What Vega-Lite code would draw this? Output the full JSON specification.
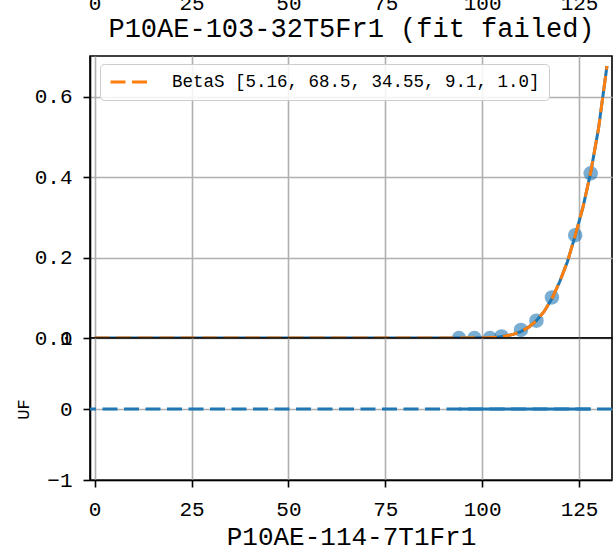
{
  "$schema": "https://vega.github.io/schema/vega-lite/v6.json",
  "padding": {"left": 13, "top": -9, "right": 0, "bottom": 0},
  "background": "white",
  "datasets": {
    "pts": [
      {"x": 94, "y": 0}, {"x": 98, "y": 0}, {"x": 102, "y": 0}, {"x": 105, "y": 0.004},
      {"x": 110, "y": 0.02}, {"x": 114, "y": 0.043}, {"x": 118, "y": 0.101},
      {"x": 124, "y": 0.256}, {"x": 128, "y": 0.41}
    ],
    "curve": [
      {"x": 0, "y": 0, "series": "BetaS [5.16, 68.5, 34.55, 9.1, 1.0]"},
      {"x": 50, "y": 0, "series": "BetaS [5.16, 68.5, 34.55, 9.1, 1.0]"},
      {"x": 90, "y": 0, "series": "BetaS [5.16, 68.5, 34.55, 9.1, 1.0]"},
      {"x": 100, "y": 0.0005, "series": "BetaS [5.16, 68.5, 34.55, 9.1, 1.0]"},
      {"x": 102, "y": 0.001, "series": "BetaS [5.16, 68.5, 34.55, 9.1, 1.0]"},
      {"x": 104, "y": 0.002, "series": "BetaS [5.16, 68.5, 34.55, 9.1, 1.0]"},
      {"x": 106, "y": 0.005, "series": "BetaS [5.16, 68.5, 34.55, 9.1, 1.0]"},
      {"x": 108, "y": 0.009, "series": "BetaS [5.16, 68.5, 34.55, 9.1, 1.0]"},
      {"x": 110, "y": 0.016, "series": "BetaS [5.16, 68.5, 34.55, 9.1, 1.0]"},
      {"x": 112, "y": 0.027, "series": "BetaS [5.16, 68.5, 34.55, 9.1, 1.0]"},
      {"x": 114, "y": 0.043, "series": "BetaS [5.16, 68.5, 34.55, 9.1, 1.0]"},
      {"x": 116, "y": 0.066, "series": "BetaS [5.16, 68.5, 34.55, 9.1, 1.0]"},
      {"x": 118, "y": 0.098, "series": "BetaS [5.16, 68.5, 34.55, 9.1, 1.0]"},
      {"x": 120, "y": 0.14, "series": "BetaS [5.16, 68.5, 34.55, 9.1, 1.0]"},
      {"x": 122, "y": 0.19, "series": "BetaS [5.16, 68.5, 34.55, 9.1, 1.0]"},
      {"x": 124, "y": 0.255, "series": "BetaS [5.16, 68.5, 34.55, 9.1, 1.0]"},
      {"x": 126, "y": 0.325, "series": "BetaS [5.16, 68.5, 34.55, 9.1, 1.0]"},
      {"x": 128, "y": 0.412, "series": "BetaS [5.16, 68.5, 34.55, 9.1, 1.0]"},
      {"x": 130, "y": 0.52, "series": "BetaS [5.16, 68.5, 34.55, 9.1, 1.0]"},
      {"x": 132.2, "y": 0.677, "series": "BetaS [5.16, 68.5, 34.55, 9.1, 1.0]"}
    ],
    "resid": [
      {"x": 94, "y": 0}, {"x": 98, "y": 0}, {"x": 102, "y": 0}, {"x": 105, "y": 0},
      {"x": 110, "y": 0}, {"x": 114, "y": 0}, {"x": 118, "y": 0}, {"x": 124, "y": 0}, {"x": 128, "y": 0}
    ],
    "zero": [{"y": 0}]
  },
  "spacing": 0,
  "bounds": "flush",
  "vconcat": [
    {
      "width": 522,
      "height": 282,
      "resolve": {"axis": {"x": "independent", "y": "independent"}},
      "layer": [
        {
          "data": {"name": "pts"},
          "mark": {"type": "circle", "size": 210, "opacity": 0.6, "color": "#1f77b4", "clip": true},
          "encoding": {
            "x": {"field": "x", "type": "quantitative", "scale": {"domain": [-1.2, 133.5], "nice": false, "zero": false},
                  "axis": {"orient": "bottom", "values": [0, 25, 50, 75, 100, 125], "labels": false, "ticks": false, "domain": false, "title": null}},
            "y": {"field": "y", "type": "quantitative", "scale": {"domain": [0, 0.702], "nice": false, "zero": false},
                  "axis": {"orient": "left", "values": [0, 0.2, 0.4, 0.6], "format": ".1f", "title": null}}
          }
        },
        {
          "data": {"name": "curve"},
          "mark": {"type": "line", "color": "#1f77b4", "strokeWidth": 3, "clip": true},
          "encoding": {
            "x": {"field": "x", "type": "quantitative", "axis": null},
            "y": {"field": "y", "type": "quantitative", "axis": null}
          }
        },
        {
          "data": {"name": "curve"},
          "mark": {"type": "line", "strokeWidth": 3, "strokeDash": [15, 6.5], "clip": true},
          "encoding": {
            "x": {"field": "x", "type": "quantitative", "axis": null},
            "y": {"field": "y", "type": "quantitative", "axis": null},
            "color": {"field": "series", "type": "nominal", "scale": {"range": ["#ff7f0e"]},
              "legend": {"orient": "none", "legendX": 10, "legendY": 8, "title": null, "symbolType": "stroke",
                "symbolStrokeWidth": 3, "symbolDash": [15, 6.5], "symbolSize": 1764, "clipHeight": 18,
                "labelFont": "Liberation Mono", "labelFontSize": 17.5, "labelColor": "black", "labelLimit": 800,
                "labelOffset": 18, "padding": 9, "strokeColor": "#cccccc", "fillColor": "rgba(255,255,255,0.85)", "cornerRadius": 4}}
          }
        },
        {
          "data": {"name": "pts"},
          "mark": {"type": "point", "opacity": 0},
          "encoding": {
            "x": {"field": "x", "type": "quantitative",
                  "axis": {"orient": "top", "values": [0, 25, 50, 75, 100, 125], "grid": false, "ticks": false, "domain": false, "offset": 36, "labelPadding": 7, "title": null}}
          }
        },
        {
          "data": {"name": "pts"},
          "mark": {"type": "point", "opacity": 0},
          "encoding": {
            "x": {"field": "x", "type": "quantitative",
                  "axis": {"orient": "top", "labels": false, "grid": false, "ticks": false, "domain": false, "minExtent": 0, "maxExtent": 0,
                           "title": "P10AE-103-32T5Fr1 (fit failed)", "titleFontSize": 27, "titlePadding": 14}},
            "y": {"field": "y", "type": "quantitative",
                  "axis": {"orient": "left", "values": [0], "labelExpr": "'1'", "labelPadding": 18, "grid": false, "ticks": false, "domain": false, "title": null}}
          }
        }
      ]
    },
    {
      "width": 522,
      "height": 142,
      "layer": [
        {
          "data": {"name": "zero"},
          "mark": {"type": "rule", "color": "#1f77b4", "strokeWidth": 3, "strokeDash": [15, 6.5]},
          "encoding": {
            "y": {"field": "y", "type": "quantitative", "scale": {"domain": [-1, 1], "nice": false, "zero": false},
                  "axis": {"values": [-1, 0], "format": "d", "title": "UF", "titleFontSize": 17, "titlePadding": 14}}
          }
        },
        {
          "data": {"name": "resid"},
          "mark": {"type": "line", "color": "#1f77b4", "strokeWidth": 3},
          "encoding": {
            "x": {"field": "x", "type": "quantitative", "scale": {"domain": [-1.2, 133.5], "nice": false, "zero": false},
                  "axis": {"values": [0, 25, 50, 75, 100, 125], "title": "P10AE-114-7T1Fr1", "titleFontSize": 26, "titlePadding": 4}},
            "y": {"field": "y", "type": "quantitative"}
          }
        }
      ]
    }
  ],
  "config": {
    "font": "Liberation Mono",
    "view": {"stroke": "black", "strokeWidth": 1.6},
    "axis": {"labelFont": "Liberation Mono", "labelFontSize": 21, "labelColor": "black", "tickColor": "black", "tickSize": 7, "tickWidth": 1.6,
      "domainColor": "black", "domainWidth": 1.6, "gridColor": "#b0b0b0", "gridWidth": 1.6, "labelFlush": false, "labelOverlap": false, "labelPadding": 11,
      "titleFont": "Liberation Mono", "titleFontWeight": "normal", "titleColor": "black"}
  }
}
